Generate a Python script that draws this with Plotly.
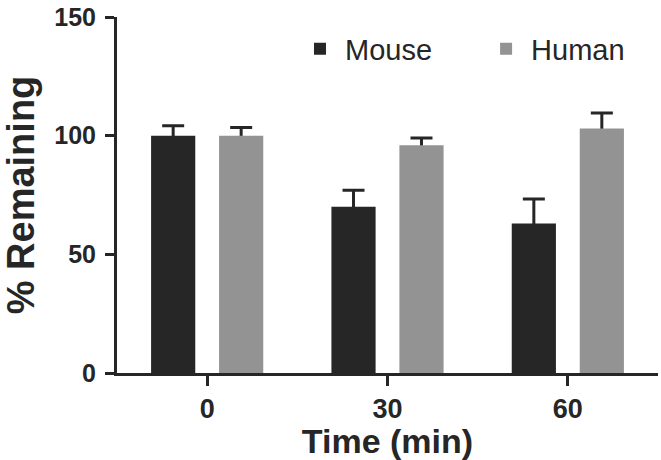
import plotly.graph_objects as go

# Data
time_labels = ["0", "30", "60"]
mouse_mean = [100, 70, 63]
mouse_err = [4.2, 7, 10.3]
human_mean = [100, 96, 103]
human_err = [3.4, 3, 6.5]
y_ticks = [0, 50, 100, 150]

dark = "#262626"
grey = "#939393"
font_family = "Liberation Sans, Arial, sans-serif"

bar_width = 0.245
off_mouse = -0.311
off_human = 0.066

fig = go.Figure()
# error bars drawn first (behind the opaque bars, so only upper half visible)
for mean, err, off in [(mouse_mean, mouse_err, off_mouse), (human_mean, human_err, off_human)]:
    fig.add_trace(go.Bar(
        x=time_labels, y=mean, width=bar_width, offset=off,
        marker=dict(color="rgba(0,0,0,0)", line=dict(width=0)),
        error_y=dict(type="data", array=err, visible=True, color=dark, thickness=3, width=11),
        showlegend=False, hoverinfo="skip",
    ))
fig.add_trace(go.Bar(x=time_labels, y=mouse_mean, width=bar_width, offset=off_mouse,
                     marker=dict(color=dark, line=dict(width=0)), name="Mouse", legend="legend"))
fig.add_trace(go.Bar(x=time_labels, y=human_mean, width=bar_width, offset=off_human,
                     marker=dict(color=grey, line=dict(width=0)), name="Human", legend="legend2"))

legend_style = dict(orientation="h", y=0.982, xanchor="left", yanchor="top",
                    font=dict(size=29, family=font_family, color=dark),
                    bgcolor="rgba(0,0,0,0)", itemwidth=40)

fig.update_layout(
    width=661, height=460,
    margin=dict(l=117, r=3, t=13, b=87),
    barmode="overlay",
    plot_bgcolor="white", paper_bgcolor="white",
    font=dict(family=font_family, color=dark),
    legend=dict(x=0.329, **legend_style),
    legend2=dict(x=0.673, **legend_style),
    showlegend=True,
)
fig.update_xaxes(
    type="category", range=[-0.5, 2.5],
    showline=True, linecolor=dark, linewidth=3,
    ticks="outside", ticklen=10, tickwidth=3, tickcolor=dark,
    tickfont=dict(size=27, family=font_family, weight="bold", color=dark),
    title=dict(text="Time (min)", font=dict(size=34, family=font_family, weight="bold", color=dark), standoff=2),
    showgrid=False, zeroline=False,
)
fig.update_yaxes(
    range=[0, 150], tickmode="array", tickvals=y_ticks, ticktext=[str(v) for v in y_ticks],
    showline=True, linecolor=dark, linewidth=3,
    ticks="outside", ticklen=9, tickwidth=3, tickcolor=dark,
    ticklabeloverflow="allow", ticklabelstandoff=4,
    tickfont=dict(size=25, family=font_family, weight="bold", color=dark),
    title=dict(text="% Remaining", font=dict(size=38, family=font_family, weight="bold", color=dark), standoff=10),
    showgrid=False, zeroline=False,
)

fig.write_html("out.html", config={"displayModeBar": False},
               post_script="document.body.style.margin='0';")
